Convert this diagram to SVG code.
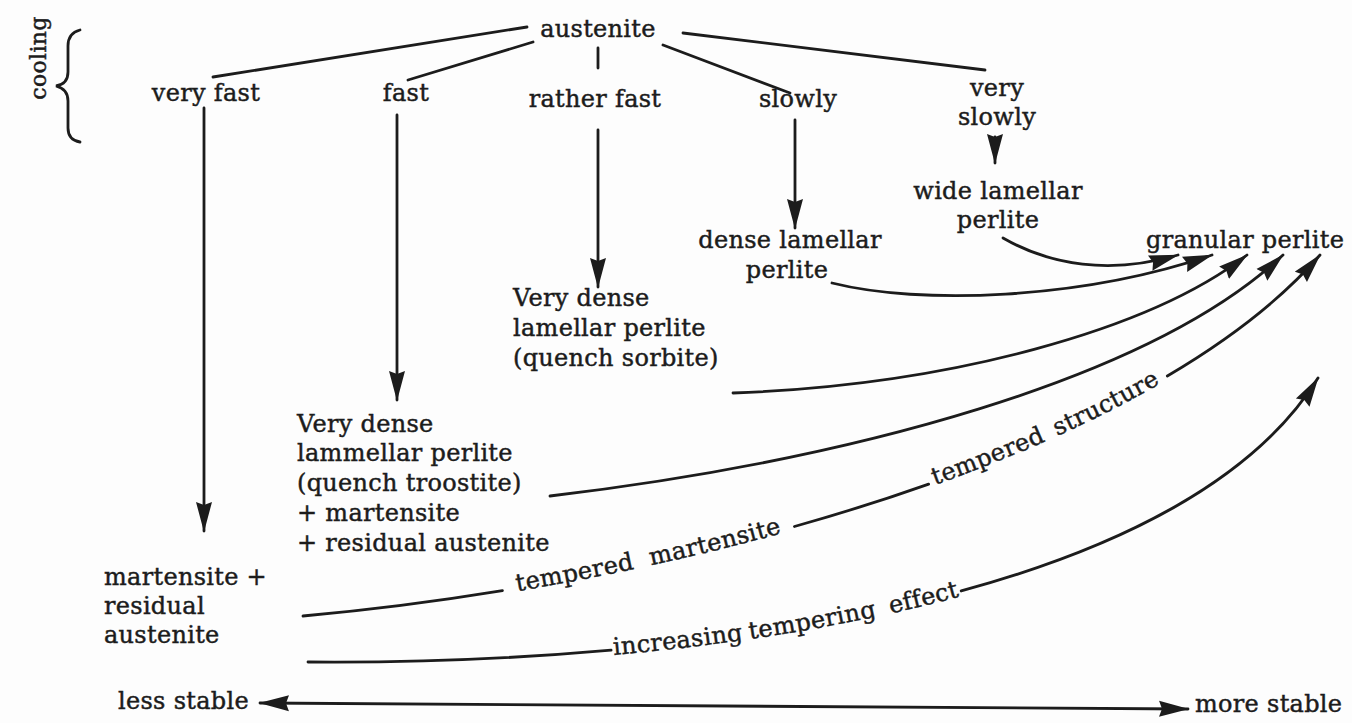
<svg xmlns="http://www.w3.org/2000/svg" xmlns:xlink="http://www.w3.org/1999/xlink" width="1352" height="723" viewBox="0 0 1352 723">
<style>
text{font-family:"DejaVu Serif","Liberation Serif",serif;font-size:24px;letter-spacing:0.3px;fill:#1c1c1c;stroke:#1c1c1c;stroke-width:0.45}
.m{text-anchor:middle}
.ln{fill:none;stroke:#1c1c1c;stroke-width:2.8;stroke-linecap:round}
.ar{marker-end:url(#ah)}
</style>
<defs>
<marker id="ah" viewBox="0 0 30 18" refX="29" refY="9" markerWidth="30" markerHeight="18" markerUnits="userSpaceOnUse" orient="auto">
<path d="M0,1 L30,9 L0,17 L3,9 z" fill="#1c1c1c"/>
</marker>
<marker id="ahs" viewBox="0 0 30 18" refX="29" refY="9" markerWidth="30" markerHeight="18" markerUnits="userSpaceOnUse" orient="auto-start-reverse">
<path d="M0,1 L30,9 L0,17 L3,9 z" fill="#1c1c1c"/>
</marker>
<path id="pE" d="M303,616 C700,580 1150,450 1320,255"/>
<path id="pF" d="M308,662 C700,665 1180,600 1318,378"/>
</defs>
<rect width="1352" height="723" fill="#fdfdfd"/>

<g id="cooling">
<text transform="translate(46,58) rotate(-90)" class="m" style="font-size:22px">cooling</text>
<path class="ln" d="M80,30 Q68,33 68,46 L68,72 Q68,84 56,86 Q68,89 68,101 L68,128 Q68,140 80,142"/>
</g>

<g id="austenite"><text class="m" x="598" y="37">austenite</text></g>
<g id="very-fast"><text class="m" x="206" y="101">very fast</text></g>
<g id="fast"><text class="m" x="406" y="101">fast</text></g>
<g id="rather-fast"><text class="m" x="595" y="107">rather fast</text></g>
<g id="slowly"><text class="m" x="798" y="107">slowly</text></g>
<g id="very-slowly"><text class="m" x="997" y="96">very</text><text class="m" x="997" y="125">slowly</text></g>
<g id="wide-lamellar"><text class="m" x="998" y="199">wide lamellar</text><text class="m" x="998" y="228">perlite</text></g>
<g id="dense-lamellar"><text class="m" x="790" y="248">dense lamellar</text><text class="m" x="787" y="278">perlite</text></g>
<g id="granular"><text x="1146" y="248">granular perlite</text></g>
<g id="sorbite"><text x="513" y="306">Very dense</text><text x="513" y="336">lamellar perlite</text><text x="513" y="366">(quench sorbite)</text></g>
<g id="troostite"><text x="297" y="432">Very dense</text><text x="297" y="461">lammellar perlite</text><text x="297" y="491">(quench troostite)</text><text x="297" y="521">+ martensite</text><text x="297" y="551">+ residual austenite</text></g>
<g id="martensite"><text x="104" y="585">martensite +</text><text x="104" y="614">residual</text><text x="104" y="643">austenite</text></g>
<g id="less-stable"><text x="118" y="709">less stable</text></g>
<g id="more-stable"><text x="1195" y="712">more stable</text></g>

<g id="connectors">
<path class="ln" d="M527,27 L213,77"/>
<path class="ln" d="M533,42 L408,80"/>
<path class="ln" d="M598,48 L598,68"/>
<path class="ln" d="M663,45 L790,93"/>
<path class="ln" d="M683,33 L985,70"/>
<path class="ln ar" d="M204,108 L204,531"/>
<path class="ln ar" d="M397,115 L397,400"/>
<path class="ln ar" d="M598,130 L598,287"/>
<path class="ln ar" d="M795,120 L795,228"/>
<path class="ln ar" d="M995,137 L995,163"/>
<path class="ln ar" d="M1003,238 C1050,265 1110,275 1178,255"/>
<path class="ln ar" d="M832,283 C920,305 1080,300 1212,255"/>
<path class="ln ar" d="M733,393 C950,385 1150,330 1247,255"/>
<path class="ln ar" d="M550,496 C850,460 1150,380 1283,255"/>
<path class="ln ar" d="M303,616 C700,580 1150,450 1320,255" pathLength="1000" stroke-dasharray="183 272 128 239 178"/>
<path class="ln ar" d="M308,662 C700,665 1180,600 1318,378" pathLength="1000" stroke-dasharray="280 328 392"/>
<path class="ln" d="M260,703 L1188,709" marker-start="url(#ahs)" marker-end="url(#ahs)"/>
</g>

<g id="edge-labels">
<text dy="3"><textPath xlink:href="#pE" startOffset="19.6%">tempered</textPath></text>
<text dy="3"><textPath xlink:href="#pE" startOffset="32.0%">martensite</textPath></text>
<text dy="3"><textPath xlink:href="#pE" startOffset="58.8%">tempered</textPath></text>
<text dy="3"><textPath xlink:href="#pE" startOffset="70.8%">structure</textPath></text>
<text dy="5"><textPath xlink:href="#pF" startOffset="28.2%">increasing</textPath></text>
<text dy="5"><textPath xlink:href="#pF" startOffset="40.8%">tempering</textPath></text>
<text dy="5"><textPath xlink:href="#pF" startOffset="54.0%">effect</textPath></text>
</g>
</svg>
